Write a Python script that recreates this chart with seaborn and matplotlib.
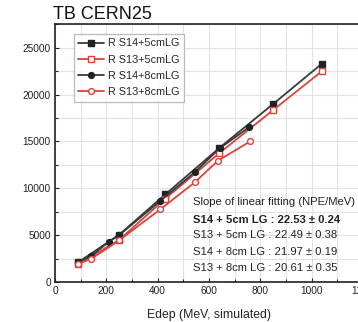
import matplotlib
matplotlib.use("Agg")
import matplotlib.pyplot as plt
import seaborn as sns
from matplotlib.ticker import MultipleLocator

# ---- data ----
s14_5_x = [90, 250, 430, 640, 850, 1040]
s14_5_y = [2100, 5050, 9350, 14300, 19000, 23300]
s13_5_x = [90, 250, 430, 640, 850, 1040]
s13_5_y = [1900, 4500, 8900, 13750, 18350, 22500]
s14_8_x = [90, 140, 210, 250, 410, 546, 641, 755]
s14_8_y = [2150, 2750, 4300, 5000, 8650, 11750, 14250, 16500]
s13_8_x = [90, 140, 250, 410, 545, 635, 760]
s13_8_y = [1950, 2450, 4450, 7750, 10650, 12950, 15000]

labels = ["R S14+5cmLG", "R S13+5cmLG", "R S14+8cmLG", "R S13+8cmLG"]
title = "TB CERN25"
xlabel = "Edep (MeV, simulated)"
slope_lines = [
    "Slope of linear fitting (NPE/MeV)",
    "S14 + 5cm LG : 22.53 \u00b1 0.24",
    "S13 + 5cm LG : 22.49 \u00b1 0.38",
    "S14 + 8cm LG : 21.97 \u00b1 0.19",
    "S13 + 8cm LG : 20.61 \u00b1 0.35",
]

sns.set_theme(style="white")
plt.rcParams['font.family'] = ['Liberation Sans', 'DejaVu Sans']

fig = plt.figure(figsize=(3.58, 3.22), dpi=100)
ax = fig.add_axes([55 / 358, 40 / 322, 308 / 358, 257.7 / 322])

dark = "#3a3a3a"
red = "#d9443c"
common = dict(linewidth=1.3, markersize=4.2, markeredgewidth=1.0)

sns.lineplot(x=s14_5_x, y=s14_5_y, ax=ax, color=dark, marker="s",
             markerfacecolor="#222222", markeredgecolor="#222222",
             label=labels[0], **common)
sns.lineplot(x=s13_5_x, y=s13_5_y, ax=ax, color=red, marker="s",
             markerfacecolor="white", markeredgecolor=red,
             label=labels[1], **common)
sns.lineplot(x=s14_8_x, y=s14_8_y, ax=ax, color=dark, marker="o",
             markerfacecolor="#222222", markeredgecolor="#222222",
             label=labels[2], **common)
sns.lineplot(x=s13_8_x, y=s13_8_y, ax=ax, color=red, marker="o",
             markerfacecolor="white", markeredgecolor=red,
             label=labels[3], **common)

ax.set_xlim(0, 1200)
ax.set_ylim(0, 27500)
ax.xaxis.set_major_locator(MultipleLocator(200))
ax.xaxis.set_minor_locator(MultipleLocator(100))
ax.yaxis.set_major_locator(MultipleLocator(5000))
ax.yaxis.set_minor_locator(MultipleLocator(2500))
ax.grid(True, which="both", color="#e2e2e2", linewidth=0.8)
ax.set_axisbelow(True)

for sp in ax.spines.values():
    sp.set_color("#222222")
    sp.set_linewidth(1.2)

ax.tick_params(axis="both", which="major", direction="in", length=3, width=0.8,
               labelsize=7.3, colors="#222222", pad=3, bottom=True, left=True)
ax.tick_params(axis="both", which="minor", direction="in", length=2, width=0.8,
               bottom=True, left=True)

ax.set_xlabel(xlabel, fontsize=8.8, color="#222222", labelpad=9)
ax.set_ylabel("")
ax.set_title(title, loc="left", fontsize=13, color="#111111", pad=4, x=-0.005)

leg = ax.legend(loc="upper left", bbox_to_anchor=(0.062, 0.962), fontsize=7.8,
                frameon=True, fancybox=False, handlelength=2.4, handletextpad=0.3,
                labelspacing=0.58, borderpad=0.4, borderaxespad=0)
leg.get_frame().set_edgecolor("#aaaaaa")
leg.get_frame().set_linewidth(0.9)

ys = [0.310, 0.2425, 0.182, 0.118, 0.0543]
for i, (t, y) in enumerate(zip(slope_lines, ys)):
    ax.text(0.448, y, t, transform=ax.transAxes, ha="left", va="center",
            fontsize=8.1, color="#222222", fontweight="bold" if i == 1 else "normal")

fig.savefig("out.png", dpi=100)
